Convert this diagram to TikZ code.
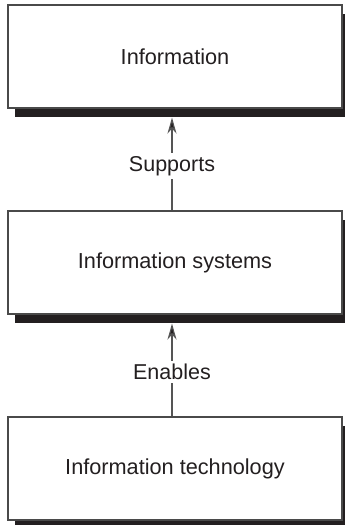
\documentclass[tikz,border=0pt]{standalone}
\usepackage{fontspec}
\setmainfont{Liberation Sans}
\usetikzlibrary{arrows.meta,shadows}
\definecolor{ink}{HTML}{231F20}
\definecolor{edge}{HTML}{4A4A4A}
\definecolor{conn}{HTML}{555555}
\tikzset{
  box/.style={draw=edge, line width=1.1pt, fill=white, rectangle,
    minimum width=334pt, minimum height=103pt, inner sep=0pt,
    text=ink, font=\fontsize{21.7}{25}\selectfont,
    drop shadow={opacity=1, fill=ink, shadow xshift=7pt, shadow yshift=-8.5pt}},
  arr/.style={draw=conn, line width=1.2pt, -{Stealth[length=16pt,width=9pt,inset=5pt,fill=ink]}},
  lbl/.style={fill=white, text=ink, inner sep=3pt, font=\fontsize{21.5}{25}\selectfont}
}
\begin{document}
\begin{tikzpicture}[x=1pt,y=-1pt]
\useasboundingbox (0,0) rectangle (345,525);
\node[box] (info) at (175,56.5) {Information};
\node[box] (sys) at (175,262.5) {Information systems};
\node[box] (tech) at (175,468.5) {Information technology};
\coordinate (infosh) at ([xshift=-3pt,yshift=-9pt]info.south);
\coordinate (syssh) at ([xshift=-3pt,yshift=-9pt]sys.south);
\draw[arr] ([xshift=-3pt]sys.north) -- node[lbl, pos=0.48] {Supports} (infosh);
\draw[arr] ([xshift=-3pt]tech.north) -- node[lbl, pos=0.48] {Enables} (syssh);
\end{tikzpicture}
\end{document}
